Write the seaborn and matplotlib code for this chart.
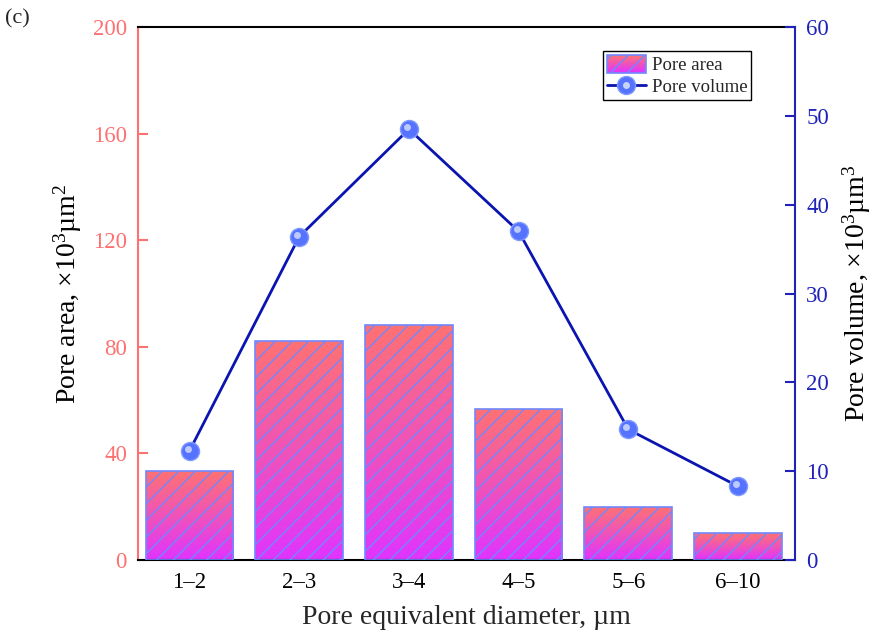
import numpy as np
import pandas as pd
import matplotlib
matplotlib.use("Agg")
import matplotlib.pyplot as plt
import matplotlib.colors as mcolors
import matplotlib.transforms as mtransforms
from matplotlib.patches import Rectangle
from matplotlib.lines import Line2D
from matplotlib.legend_handler import HandlerBase, HandlerTuple
import seaborn as sns

categories = ["1\u20132", "2\u20133", "3\u20134", "4\u20135", "5\u20136", "6\u201310"]
pore_area = [33.4, 82.2, 88.2, 56.7, 19.9, 10.1]
pore_volume = [12.3, 36.4, 48.5, 37.0, 14.7, 8.3]
left_ticks = [0, 40, 80, 120, 160, 200]
right_ticks = [0, 10, 20, 30, 40, 50, 60]

sns.set_theme(style="ticks")
plt.rcParams["font.family"] = ["Liberation Serif", "DejaVu Serif"]
plt.rcParams["mathtext.fontset"] = "custom"
plt.rcParams["mathtext.rm"] = "Liberation Serif"
plt.rcParams["mathtext.it"] = "Liberation Serif:italic"
plt.rcParams["hatch.linewidth"] = 1.0

RED = "#FF7070"
BLUE_AX = "#1E22B8"
TOP_C = np.array(mcolors.to_rgb("#FF7272"))
BOT_C = np.array(mcolors.to_rgb("#E034FF"))
EDGE = "#7088FF"
LINE_C = "#0A14B0"
MK_C = "#5573FF"

fig = plt.figure(figsize=(8.71, 6.42), dpi=100)
ax = fig.add_axes([138 / 871, 1 - 560 / 642, (795 - 138) / 871, (560 - 27) / 642])

df = pd.DataFrame({"cat": categories, "area": pore_area, "vol": pore_volume})
sns.barplot(data=df, x="cat", y="area", ax=ax, width=0.8, color="#ffffff",
            saturation=1, zorder=2)

# gradient fill per bar
grad = np.linspace(0, 1, 256)[:, None]
cols = (TOP_C[None, None, :] * (1 - grad[..., None]) + BOT_C[None, None, :] * grad[..., None])
for p in list(ax.patches):
    x, y = p.get_x(), p.get_y()
    w, h = p.get_width(), p.get_height()
    im = ax.imshow(cols, extent=[x, x + w, y, y + h], aspect="auto",
                   origin="upper", zorder=2, interpolation="bilinear")
    im.set_clip_path(p)
    p.set_facecolor("none")
    p.set_edgecolor(EDGE)
    p.set_hatch("//")
    p.set_linewidth(1.2)
    p.set_zorder(3)

ax.set_xlim(-0.47, 5.52)
ax.set_ylim(0, 200)
ax.set_yticks(left_ticks)
ax.set_xlabel("Pore equivalent diameter, \u00b5m", fontsize=20, labelpad=8)
ax.set_ylabel("Pore area, \u00d710$^3$\u00b5m$^2$", fontsize=20, labelpad=6)
ax.tick_params(axis="x", direction="in", length=7, width=1.5, labelsize=16.5, pad=9, colors="black")
ax.tick_params(axis="y", direction="in", length=7, width=1.5, labelsize=16.5, pad=8,
               colors=RED)
for s in ax.spines.values():
    s.set_linewidth(1.5)
ax.spines["left"].set_color(RED)
ax.spines["bottom"].set_color("black")
ax.spines["top"].set_color("black")
ax.spines["top"].set_visible(True)
ax.spines["right"].set_visible(False)

ax2 = ax.twinx()
x_pos = np.arange(len(categories))
sns.lineplot(x=x_pos, y=pore_volume, ax=ax2, color=LINE_C, linewidth=2,
             marker="o", markersize=13, markerfacecolor=MK_C,
             markeredgecolor="#7F99FF", markeredgewidth=1, zorder=4)
hl_trans = mtransforms.offset_copy(ax2.transData, fig=fig, x=-2, y=2, units="dots")
ax2.plot(x_pos, pore_volume, linestyle="none", marker="o", markersize=5,
         markerfacecolor="#C8D4FF", markeredgecolor="none", alpha=0.9,
         transform=hl_trans, zorder=5)
ax2.set_ylim(0, 60)
ax2.set_yticks(right_ticks)
ax2.set_ylabel("Pore volume, \u00d710$^3$\u00b5m$^3$", fontsize=20, labelpad=8)
ax2.tick_params(axis="y", direction="in", length=7, width=1.5, labelsize=16.5, pad=8,
                colors=BLUE_AX)
ax2.yaxis.label.set_color("black")
ax.yaxis.label.set_color("black")
for k, s in ax2.spines.items():
    s.set_visible(k == "right")
ax2.spines["right"].set_color(BLUE_AX)
ax2.spines["right"].set_linewidth(1.5)
ax.set_zorder(1)
ax2.set_zorder(2)
ax.patch.set_visible(True)
ax2.patch.set_visible(False)


class GradHandler(HandlerBase):
    def create_artists(self, legend, orig_handle, xdescent, ydescent, width,
                       height, fontsize, trans):
        arts = []
        n = 24
        for i in range(n):
            t = i / (n - 1)
            c = BOT_C * (1 - t) + TOP_C * t
            arts.append(Rectangle((-xdescent, -ydescent + height * i / n), width,
                                  height / n * 1.05, facecolor=c, edgecolor="none",
                                  transform=trans))
        arts.append(Rectangle((-xdescent, -ydescent), width, height,
                              facecolor="none", edgecolor=EDGE, hatch="//",
                              linewidth=1.2, transform=trans))
        return arts


area_handle = Rectangle((0, 0), 1, 1)
vol_line = Line2D([], [], color=LINE_C, linewidth=2, marker="o", markersize=13,
                  markerfacecolor=MK_C, markeredgecolor="#7F99FF")
vol_hl = Line2D([], [], linestyle="none", marker="o", markersize=5,
                markerfacecolor="#C8D4FF", markeredgecolor="none")
leg = ax2.legend([area_handle, (vol_line, vol_hl)], ["Pore area", "Pore volume"],
                 handler_map={Rectangle: GradHandler(), tuple: HandlerTuple(ndivide=1)},
                 loc="upper right", bbox_to_anchor=(0.933, 0.955), fontsize=13.5,
                 frameon=True, fancybox=False, edgecolor="black", framealpha=1,
                 handlelength=2.1, handleheight=1.1, borderpad=0.2, labelspacing=0.15,
                 handletextpad=0.3, borderaxespad=0)
leg.get_frame().set_linewidth(1.0)

fig.text(0.006, 0.985, "(c)", fontsize=16, va="top", ha="left")

fig.savefig("out.png", dpi=100)
